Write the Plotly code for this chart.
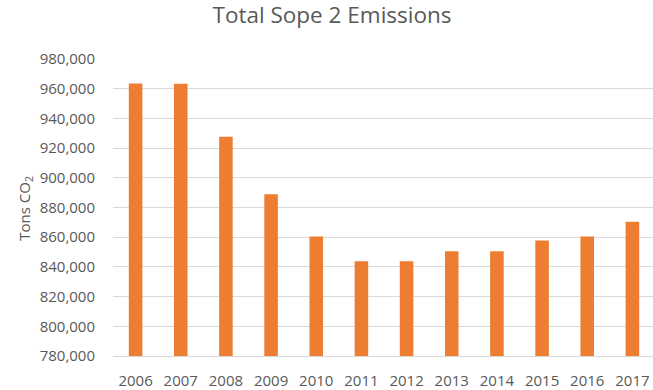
import plotly.graph_objects as go

years = ["2006", "2007", "2008", "2009", "2010", "2011", "2012", "2013", "2014", "2015", "2016", "2017"]
emissions = [963500, 963300, 927600, 888900, 860500, 843800, 843800, 850500, 850500, 857800, 860500, 870400]
y_ticks = list(range(780000, 1000000, 20000))

fig = go.Figure()
fig.add_trace(go.Bar(x=years, y=emissions, marker=dict(color="#ED7D31", line=dict(width=0))))

fig.update_layout(
    width=653, height=390,
    margin=dict(l=113, r=0, t=59, b=34, autoexpand=False),
    paper_bgcolor="white", plot_bgcolor="white",
    bargap=0.7,
    showlegend=False,
    font=dict(family="Open Sans", color="#595959"),
    title=dict(text="Total Sope 2 Emissions", x=332/653, xanchor="center", xref="container",
               y=1-15/390, yanchor="middle", yref="container",
               font=dict(size=22.5, color="#595959")),
)
fig.update_xaxes(
    type="category", range=[-0.5, 11.456],
    showline=True, linecolor="#D9D9D9", linewidth=1,
    showgrid=False, ticks="", tickfont=dict(size=15, color="#595959"),
    ticklabelstandoff=11,
)
fig.update_yaxes(
    range=[780000, 980000], tickvals=y_ticks, tickformat=",d",
    showgrid=True, gridcolor="#D9D9D9", gridwidth=1,
    zeroline=False, showline=False, ticks="",
    tickfont=dict(size=15, color="#595959"),
    ticklabelstandoff=17,
)
fig.add_annotation(
    text="Tons CO<sub>2</sub>", textangle=-90, showarrow=False,
    xref="paper", yref="paper", x=(25-113)/540, y=0.496,
    xanchor="center", yanchor="middle",
    font=dict(size=15, color="#595959"),
)
fig.write_html("out.html", config={"displayModeBar": False},
               post_script="document.body.style.margin='0';document.body.style.overflow='hidden';")
